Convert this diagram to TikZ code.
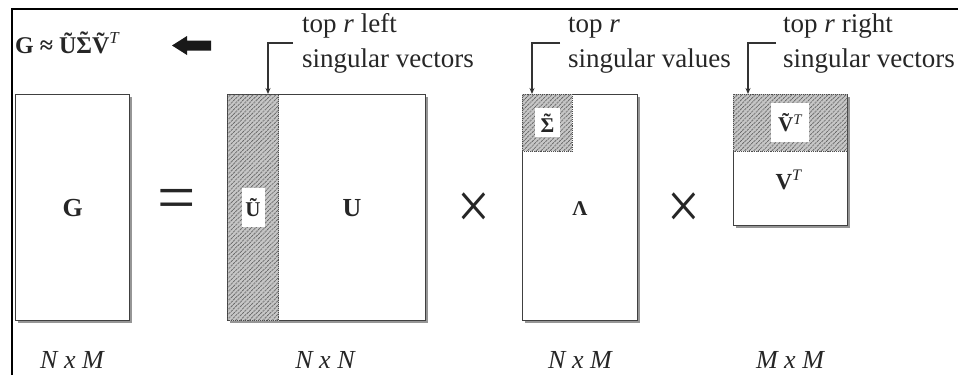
\documentclass[tikz,border=0pt]{standalone}
\usepackage{fontspec}
\setmainfont{Liberation Serif}
\usetikzlibrary{patterns.meta,shadows,arrows.meta}
\newcommand{\wbox}[3]{{\setlength{\fboxsep}{0pt}\colorbox{white}{\parbox[c][#2][c]{#1}{\centering #3}}}}
\newcommand{\tsig}{\accent"02DC Σ}
\begin{document}
\begin{tikzpicture}[x=1pt,y=-1pt,
  mat/.style={draw=black!75, line width=1.3pt, fill=white, inner sep=0pt, anchor=north west,
    drop shadow={shadow xshift=2.5pt, shadow yshift=-2.5pt, fill=black!55, opacity=0.75}},
  hatch/.style={draw=black!70, line width=0.9pt, densely dotted, inner sep=0pt, anchor=north west,
    preaction={fill=black!22}, pattern={Lines[angle=45,distance=3.2pt,line width=1pt]}, pattern color=black!60,
    font=\fontsize{21}{21}\selectfont\bfseries, text=black!85},
  biglab/.style={font=\fontsize{26}{26}\selectfont\bfseries, text=black!85},
  calltext/.style={anchor=base west, inner sep=0pt, font=\fontsize{27}{30}\selectfont, text=black!85},
  dimlab/.style={anchor=base, inner sep=0pt, font=\fontsize{26}{26}\selectfont\itshape, text=black!85},
  callout/.style={draw=black!80, line width=1.2pt, -{Stealth[length=6pt,width=5pt]}},
  opsym/.style={inner sep=0pt, text=black!85}
]
\useasboundingbox (0,0) rectangle (958,375);
% frame
\draw[line width=1.3pt] (12,375) -- (12,9) -- (958,9);

% top formula and block arrow
\node[anchor=base west, inner sep=0pt, font=\fontsize{24}{24}\selectfont\bfseries, text=black!85] (formula) at (15,53)
  {G ≈ Ũ\tsig Ṽ\textsuperscript{\textmd{\textit{T}}}};
\fill[black!90] (172,45.5) -- (187,36) -- (187,40.5) -- (211,40.5) -- (211,50.5) -- (187,50.5) -- (187,55) -- cycle;

% matrices
\node[mat, minimum width=114pt, minimum height=226pt, biglab] (G) at (15,94) {G};
\node[opsym, font=\fontsize{68}{68}\selectfont] (eq) at (177,205) {=};

\node[mat, minimum width=198pt, minimum height=226pt] (U) at (227,94) {};
\node[hatch, minimum width=51pt, minimum height=226pt] (Ut) at (227,94) {\wbox{23pt}{39pt}{Ũ}};
\node[biglab] (Ulab) at (352,208) {U};
\node[opsym, font=\fontsize{58}{58}\selectfont, yscale=1.15] (x1) at (474,211) {×};

\node[mat, minimum width=115pt, minimum height=226pt] (L) at (522,94) {};
\node[hatch, minimum width=50pt, minimum height=57pt] (St) at (522,94) {\wbox{25pt}{29pt}{\tsig}};
\node[biglab, font=\fontsize{21}{21}\selectfont\bfseries] (Llab) at (580,209) {Λ};
\node[opsym, font=\fontsize{58}{58}\selectfont, yscale=1.15] (x2) at (684,211) {×};

\node[mat, minimum width=114pt, minimum height=131pt] (V) at (733,94) {};
\node[hatch, minimum width=114pt, minimum height=57pt] (Vt) at (733,94) {\wbox{38pt}{39pt}{Ṽ\textsuperscript{\textmd{\textit{T}}}}};
\node[biglab, font=\fontsize{23}{23}\selectfont\bfseries] (Vlab) at (789,180) {V\textsuperscript{\textmd{\textit{T}}}};

% dimension labels
\node[dimlab] (d1) at (72,368) {N x M};
\node[dimlab] (d2) at (325,368) {N x N};
\node[dimlab] (d3) at (580,368) {N x M};
\node[dimlab] (d4) at (790,368) {M x M};

% callouts
\node[calltext] (t1a) at (302,32) {top \textit{r} left};
\node[calltext] (t1b) at (302,67) {singular vectors};
\node[calltext] (t2a) at (568,32) {top \textit{r}};
\node[calltext] (t2b) at (568,67) {singular values};
\node[calltext] (t3a) at (783,32) {top \textit{r} right};
\node[calltext] (t3b) at (783,67) {singular vectors};

\coordinate (c1) at (293,43);
\coordinate (c2) at (560,43);
\coordinate (c3) at (776,43);
\draw[callout] (c1) -| ([xshift=41pt]U.north west);
\draw[callout] (c2) -| ([xshift=10pt]L.north west);
\draw[callout] (c3) -| ([xshift=15pt]V.north west);
\end{tikzpicture}
\end{document}
